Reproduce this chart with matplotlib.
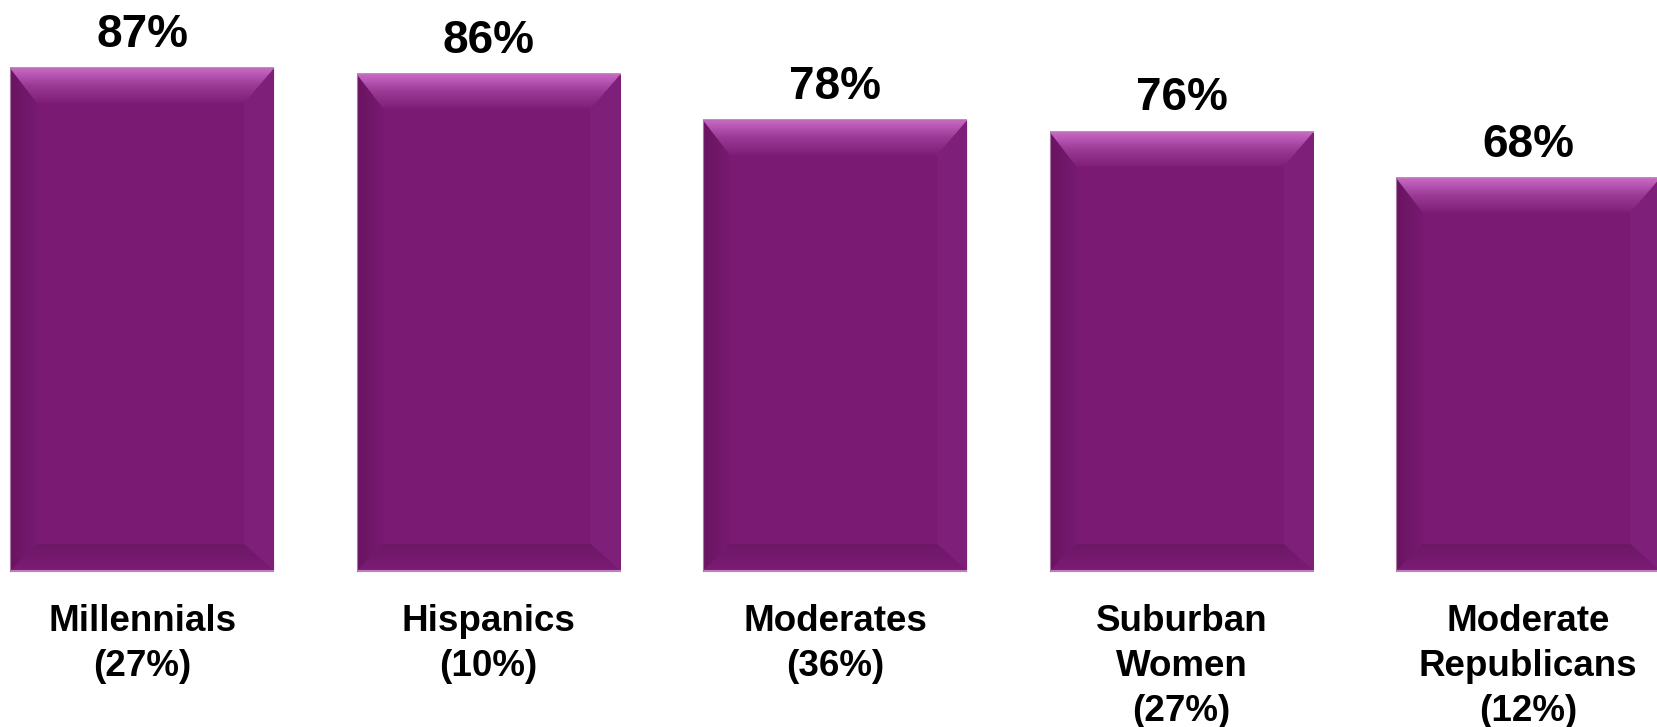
import numpy as np
import matplotlib
matplotlib.use("Agg")
import matplotlib.pyplot as plt
from matplotlib.patches import Polygon
from matplotlib.colors import LinearSegmentedColormap

# data
groups = ["Millennials\n(27%)", "Hispanics\n(10%)", "Moderates\n(36%)",
          "Suburban\nWomen\n(27%)", "Moderate\nRepublicans\n(12%)"]
values = [87, 86, 78, 76, 68]

BAR = "#7A1A73"
FONT = "Liberation Sans"

W, H = 1657, 727
fig = plt.figure(figsize=(W / 100, H / 100), dpi=100)
ax = fig.add_axes([0, 0, 1, 1])
XLIM = (-0.41, 4.372)
YLIM = (-27.0, 98.8)
ax.axis("off")

x = np.arange(len(values))
bars = ax.bar(x, values, width=0.762, color=BAR, edgecolor="none", zorder=1)

# pixel -> data unit sizes
px_x = (XLIM[1] - XLIM[0]) / W
px_y = (YLIM[1] - YLIM[0]) / H


def shade(poly, colors, vertical, z=2):
    """Fill a polygon with a linear gradient (bottom->top or left->right)."""
    patch = Polygon(poly, closed=True, facecolor="none", edgecolor="none")
    ax.add_patch(patch)
    xs, ys = zip(*poly)
    grad = np.linspace(0, 1, 128)
    img = grad[:, None] if vertical else grad[None, :]
    cmap = LinearSegmentedColormap.from_list("g", colors)
    im = ax.imshow(img, cmap=cmap, origin="lower", aspect="auto",
                   interpolation="bilinear", zorder=z,
                   extent=(min(xs), max(xs), min(ys), max(ys)))
    im.set_clip_path(patch)


# bevel look of the original bars
for b in bars:
    x0 = b.get_x()
    x1 = x0 + b.get_width()
    h = b.get_height()
    lw, rw = 27 * px_x, 30 * px_x
    tw, bw = 35 * px_y, 27 * px_y

    shade([(x0, h), (x1, h), (x1 - rw, h - tw), (x0 + lw, h - tw)],
          ["#7E1E78", "#9A3A95", "#CA68C6"], vertical=True, z=3)
    shade([(x0, h), (x0 + lw, h - tw), (x0 + lw, bw), (x0, 0)],
          ["#6A1462", "#771A70"], vertical=False)
    ax.add_patch(Polygon([(x1, h), (x1, 0), (x1 - rw, bw), (x1 - rw, h - tw)],
                         closed=True, facecolor="#7E1F79", edgecolor="none", zorder=2))
    shade([(x0, 0), (x1, 0), (x1 - rw, bw), (x0 + lw, bw)],
          ["#7C1C75", "#6D1767"], vertical=True, z=3)
    ax.plot([x0, x1], [0, 0], color="#C27CC0", lw=1.5, zorder=4, solid_capstyle="butt")
    ax.plot([x0, x1], [h, h], color="#C070BC", lw=1.2, zorder=4, solid_capstyle="butt")
    ax.plot([x0, x0], [0, h], color="#A77AA4", lw=0.8, zorder=4)

for xi, v, g in zip(x, values, groups):
    ax.text(xi, v + 3.7, f"{v}%", ha="center", va="baseline",
            fontsize=33, fontweight="bold", family=FONT, color="black")
    ax.text(xi, -5.8, g, ha="center", va="top", linespacing=1.36,
            fontsize=26.5, fontweight="bold", family=FONT, color="black",
            multialignment="center")

ax.set_xlim(*XLIM)
ax.set_ylim(*YLIM)

fig.savefig("out.png", dpi=100, facecolor="white")
plt.close(fig)
